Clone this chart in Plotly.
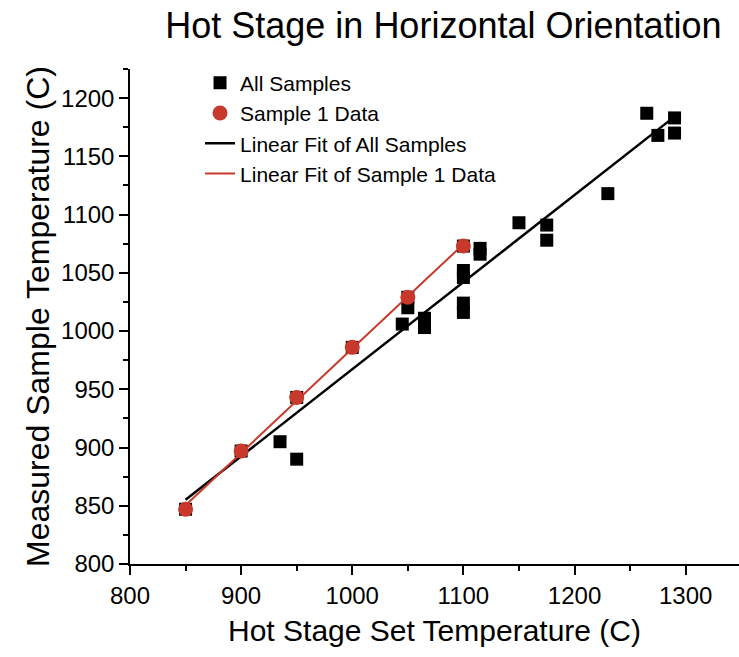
import numpy as np
import plotly.graph_objects as go

# Sample 1 data (red)
s1_x = [850, 900, 950, 1000, 1050, 1100]
s1_y = [847, 897, 943, 986, 1029, 1073]

# Other samples (black squares, besides Sample 1 points which are part of "All Samples")
other_x = [935, 950, 1045, 1050, 1065, 1065, 1100, 1100, 1100, 1100, 1115, 1115,
           1150, 1175, 1175, 1230, 1265, 1275, 1290, 1290]
other_y = [905, 890, 1006, 1020, 1011, 1003, 1052, 1046, 1024, 1016, 1066, 1071,
           1093, 1091, 1078, 1118, 1187, 1168, 1183, 1170]

all_x = np.array(s1_x + other_x, dtype=float)
all_y = np.array(s1_y + other_y, dtype=float)

# Linear fits
a_all, b_all = np.polyfit(all_x, all_y, 1)
fx_all = np.array([all_x.min(), all_x.max()])
fy_all = a_all * fx_all + b_all

a_s1, b_s1 = np.polyfit(s1_x, s1_y, 1)
fx_s1 = np.array([min(s1_x), max(s1_x)])
fy_s1 = a_s1 * fx_s1 + b_s1

RED = "#c8392b"
FONT = "Liberation Sans, Arial, sans-serif"

fig = go.Figure()
fig.add_trace(go.Scatter(x=all_x, y=all_y, mode="markers", name="All Samples",
                         marker=dict(symbol="square", size=13, color="black"),
                         legendrank=1))
fig.add_trace(go.Scatter(x=fx_all, y=fy_all, mode="lines", name="Linear Fit of All Samples",
                         line=dict(color="black", width=2.5), legendrank=3))
fig.add_trace(go.Scatter(x=s1_x, y=s1_y, mode="markers", name="Sample 1 Data",
                         marker=dict(symbol="circle", size=15, color=RED),
                         legendrank=2))
fig.add_trace(go.Scatter(x=fx_s1, y=fy_s1, mode="lines", name="Linear Fit of Sample 1 Data",
                         line=dict(color=RED, width=2), legendrank=4))

fig.update_layout(
    width=739, height=657,
    margin=dict(l=130, r=0, t=69, b=93),
    paper_bgcolor="white", plot_bgcolor="white",
    font=dict(family=FONT, color="black", size=24),
    title=dict(text="Hot Stage in Horizontal Orientation", font=dict(size=36, family=FONT),
               x=0.6, xanchor="center", xref="container", y=0.962, yanchor="middle"),
    showlegend=True,
    legend=dict(x=0.115, xanchor="left", y=1.013, yanchor="top", bgcolor="rgba(0,0,0,0)",
                font=dict(size=21, family=FONT), borderwidth=0, tracegroupgap=0),
)
fig.update_xaxes(
    range=[800, 1348], showline=True, linecolor="black", linewidth=1.5, mirror=False,
    showgrid=False, zeroline=False,
    tickmode="linear", tick0=800, dtick=100, ticks="outside", ticklen=9, tickwidth=1.5,
    tickcolor="black", tickfont=dict(size=24),
    minor=dict(dtick=50, ticks="outside", ticklen=5, tickwidth=1.5, tickcolor="black", showgrid=False),
    title=dict(text="Hot Stage Set Temperature (C)", font=dict(size=30), standoff=12),
)
fig.update_yaxes(
    range=[800, 1225], showline=True, linecolor="black", linewidth=1.5, mirror=False,
    showgrid=False, zeroline=False,
    tickmode="linear", tick0=800, dtick=50, ticks="outside", ticklen=9, tickwidth=1.5,
    tickcolor="black", tickfont=dict(size=24),
    minor=dict(dtick=25, ticks="outside", ticklen=5, tickwidth=1.5, tickcolor="black", showgrid=False),
    title=dict(text="Measured Sample Temperature (C)", font=dict(size=32), standoff=2),
)

fig.write_html("out.html")
